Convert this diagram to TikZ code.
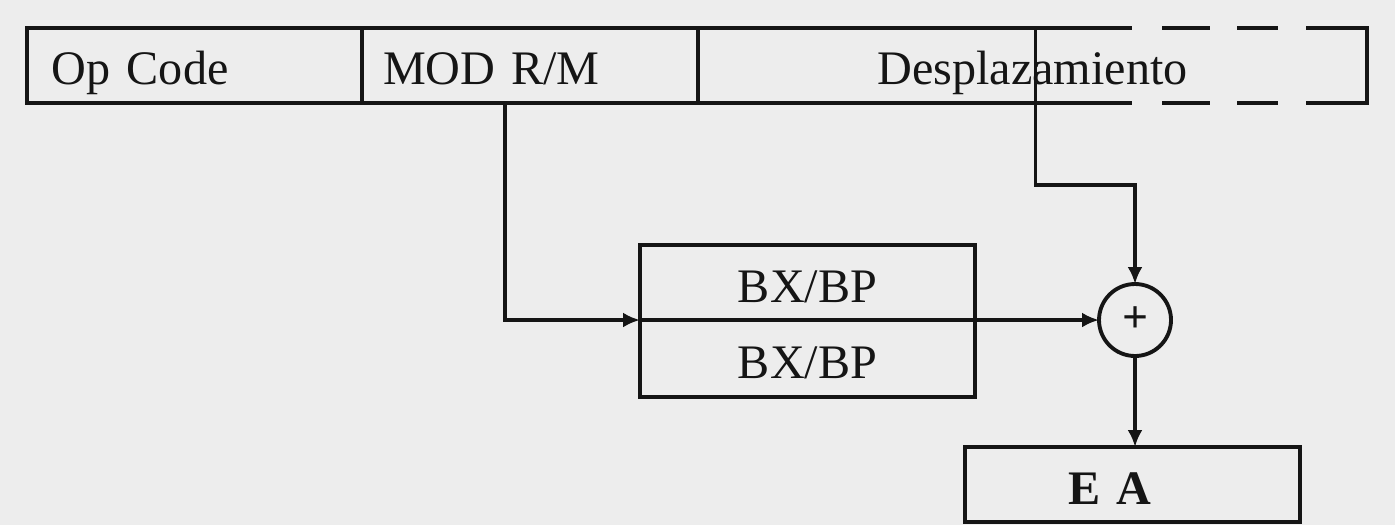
\documentclass[tikz,border=0pt]{standalone}
\usepackage{fontspec}
\setmainfont{Liberation Serif}
\usetikzlibrary{arrows.meta,positioning,calc}
\definecolor{paper}{HTML}{EDEDED}
\definecolor{ink}{HTML}{151515}

\begin{document}
\begin{tikzpicture}[
    every node/.style={font=\fontsize{13.7}{15}\selectfont, text=ink, outer sep=0pt},
    frame/.style={draw=ink, line width=1.1pt},
    field/.style={
        rectangle, frame, inner sep=0pt,
        minimum height=0.75cm, text height=0.40cm, text depth=0.02cm,
        anchor=north west, align=left,
    },
    reg/.style={rectangle, frame, inner sep=0pt, minimum width=3.35cm,
        text height=0.41cm, text depth=0.01cm},
    sumnode/.style={circle, frame, inner sep=0pt, minimum size=0.72cm,
        font=\fontsize{13}{14}\selectfont\bfseries},
    wire/.style={draw=ink, line width=1.1pt},
    arr/.style={wire, -{Latex[length=1.7mm,width=1.5mm]}},
]

% Paper and page size
\fill[paper] (0,0) rectangle (13.95,-5.25);
\useasboundingbox (0,0) rectangle (13.95,-5.25);

% Top: instruction format
\node[field, text width=2.85cm, inner xsep=0.25cm] (opcode) at (0.27,-0.28) {Op Code};
\node[field, text width=2.94cm, inner xsep=0.21cm] (modrm) at (opcode.north east) {MOD R/M};
\node[field, draw=none, minimum width=6.69cm, align=center] (desp) at (modrm.north east) {Desplazamiento};

% Displacement field — solid, then dashed to the right end
\draw[frame] (desp.north west) -- ++(4.34,0) (desp.south west) -- ++(4.34,0);
\foreach \a/\b in {11.62/12.10, 12.37/12.78} {
    \draw[frame] (\a,0 |- desp.north) -- (\b,0 |- desp.north);
    \draw[frame] (\a,0 |- desp.south) -- (\b,0 |- desp.south);
}
\draw[frame] (13.06,0 |- desp.north) -- (desp.north east)
    -- (desp.south east) -- (13.06,0 |- desp.south);

% Middle: base register
\node[reg, minimum height=0.75cm, anchor=north west] (bx1) at (6.40,-2.45) {BX/BP};
\node[reg, minimum height=0.77cm, below=0pt of bx1] (bx2) {BX/BP};

% Adder and effective address
\node[sumnode] (sum) at (11.35,-3.20) {+};
\node[reg, minimum height=0.75cm, text width=1.29cm, align=left,
      font=\fontsize{13.7}{15}\selectfont\bfseries, anchor=north west] (ea) at (9.65,-4.47) {E A};

% Arrows
\draw[arr] ([xshift=-0.25cm]modrm.south) |- (bx1.south west);
\draw[arr] (bx1.south east) -- (bx1.south east -| sum.west);
\draw[arr] ([xshift=0.03cm]desp.north) |- ([yshift=0.99cm]sum.north) -- (sum.north);
\draw[arr] (sum.south) -- (sum.south |- ea.north);

\end{tikzpicture}
\end{document}
